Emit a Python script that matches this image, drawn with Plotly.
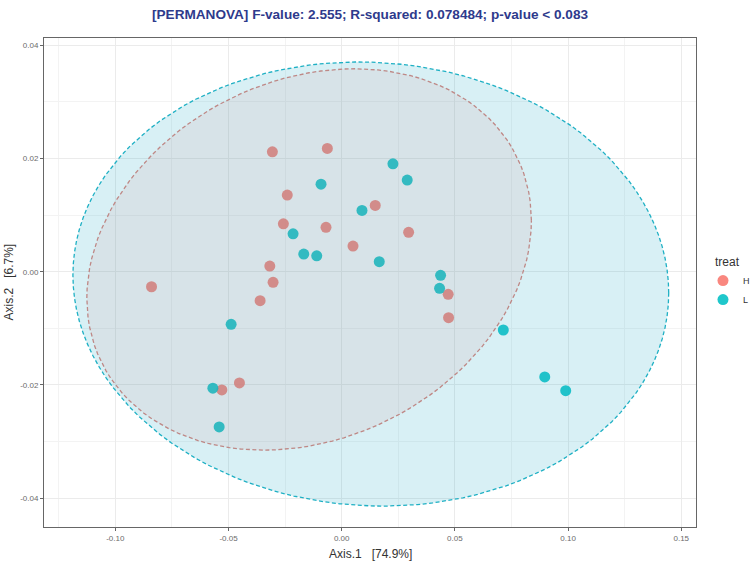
import numpy as np
import plotly.graph_objects as go

# ---- data ----
groups = ["H", "L"]
colors = {"H": "#F8766D", "L": "#00BFC4"}

h_x = [-0.0840, -0.03062, -0.00635, -0.02404, -0.02576, -0.00693, 0.01482, 0.02956,
       0.00499, -0.03176, -0.03031, -0.03604, -0.04518, -0.05294, 0.04703, 0.04721]
h_y = [-0.00265, 0.02118, 0.02178, 0.01354, 0.00846, 0.00784, 0.01172, 0.00696,
       0.00454, 0.00101, -0.00187, -0.00512, -0.01965, -0.02088, -0.00399, -0.00812]

l_x = [0.02263, 0.02894, -0.00913, 0.00896, -0.02148, -0.01676, -0.01103, 0.01659,
       0.04368, 0.04323, 0.07138, 0.08969, 0.09895, -0.04884, -0.05691, -0.05413]
l_y = [0.01906, 0.01619, 0.01548, 0.01084, 0.00671, 0.00312, 0.00282, 0.00177,
       -0.00064, -0.00293, -0.01029, -0.01859, -0.02101, -0.00929, -0.02058, -0.02741]

x_ticks = [-0.10, -0.05, 0.00, 0.05, 0.10, 0.15]
y_ticks = [-0.04, -0.02, 0.00, 0.02, 0.04]

title_text = "[PERMANOVA] F-value: 2.555; R-squared: 0.078484; p-value < 0.083"
x_title = "Axis.1   [74.9%]"
y_title = "Axis.2   [6.7%]"
legend_title = "treat"

data = {"H": (h_x, h_y), "L": (l_x, l_y)}
fill_colors = {"H": "rgba(248,118,109,0.11)", "L": "rgba(40,170,200,0.18)"}
line_colors = {"H": "#E08078", "L": "#1FB0C4"}


def ellipse_path(xs, ys, level=0.95, segments=120):
    pts = np.column_stack([xs, ys])
    n = len(pts)
    center = pts.mean(axis=0)
    shape = np.cov(pts, rowvar=False)
    dfn, dfd = 2, n - 1
    fq = (dfd / 2.0) * ((1 - level) ** (-2.0 / dfd) - 1)
    radius = np.sqrt(dfn * fq)
    R = np.linalg.cholesky(shape).T
    ang = np.linspace(0, 2 * np.pi, segments + 1)
    circ = np.column_stack([np.cos(ang), np.sin(ang)])
    e = center + radius * (circ @ R)
    return e[:, 0], e[:, 1]


fig = go.Figure()

for g in groups:
    xs, ys = data[g]
    fig.add_trace(go.Scatter(
        x=xs, y=ys, mode="markers", name=g,
        marker=dict(color=colors[g], size=11, opacity=0.88, line=dict(width=0)),
        legendgroup=g, showlegend=True,
    ))

for g in groups:
    xs, ys = data[g]
    ex, ey = ellipse_path(xs, ys)
    fig.add_trace(go.Scatter(
        x=ex, y=ey, mode="lines", fill="toself",
        fillcolor=fill_colors[g],
        line=dict(color=line_colors[g], width=1.3, dash="4px,2.5px"),
        showlegend=False, hoverinfo="skip",
    ))

axis_common = dict(
    showgrid=True, gridcolor="#EBEBEB", gridwidth=1,
    zeroline=False, showline=True, linecolor="#666666", linewidth=1,
    mirror=True, ticks="outside", ticklen=3, tickcolor="#666666", tickwidth=1,
    tickfont=dict(family="Liberation Sans, Arial", size=8, color="#6b6b6b"),
)

fig.update_layout(
    width=750, height=566,
    margin=dict(l=44, r=54, t=38, b=39, autoexpand=False),
    paper_bgcolor="white", plot_bgcolor="white",
    title=dict(text=f"<b>{title_text}</b>", x=0.5, xref="paper", xanchor="center",
               y=1 - 14 / 566, yref="container", yanchor="middle",
               font=dict(family="Liberation Sans, Arial", size=13.6, color="#2E3A8C")),
    xaxis=dict(range=[-0.1315, 0.1565], tickvals=x_ticks,
               ticktext=[f"{v:.2f}" for v in x_ticks],
               minor=dict(dtick=0.025, tick0=0, showgrid=True, gridcolor="#F3F3F3",
                          gridwidth=0.6, ticks=""),
               **axis_common),
    yaxis=dict(range=[-0.0451, 0.0413], tickvals=y_ticks,
               ticktext=[f"{v:.2f}" for v in y_ticks],
               minor=dict(dtick=0.01, tick0=0, showgrid=True, gridcolor="#F3F3F3",
                          gridwidth=0.6, ticks=""),
               **axis_common),
    legend=dict(title=dict(text="\u00a0\u00a0\u00a0" + legend_title,
                           font=dict(family="Liberation Sans, Arial", size=12, color="#333333")),
                font=dict(family="Liberation Sans, Arial", size=9, color="#333333"),
                x=1.0107, xanchor="left", y=0.5, yanchor="middle",
                itemwidth=30, tracegroupgap=0, bgcolor="rgba(0,0,0,0)"),
    annotations=[
        dict(text=x_title, xref="paper", yref="paper", x=0.5, y=-27 / 489,
             xanchor="center", yanchor="middle", showarrow=False,
             font=dict(family="Liberation Sans, Arial", size=12, color="#333333")),
        dict(text=y_title, xref="paper", yref="paper", x=-36 / 652, y=0.5,
             xanchor="center", yanchor="middle", textangle=-90, showarrow=False,
             font=dict(family="Liberation Sans, Arial", size=12, color="#333333")),
    ],
)

fig.write_html("out.html")
